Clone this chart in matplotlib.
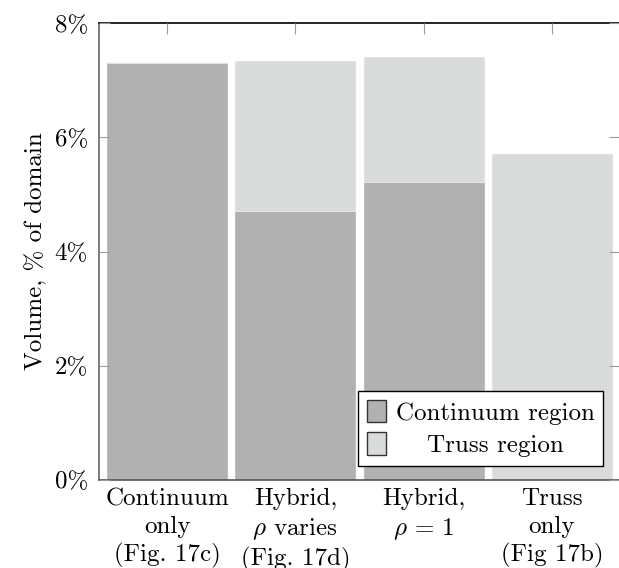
import numpy as np
import matplotlib
matplotlib.use("Agg")
import matplotlib.pyplot as plt
from matplotlib.ticker import FuncFormatter

plt.rcParams["font.family"] = ["cmr10", "DejaVu Serif"]
plt.rcParams["mathtext.fontset"] = "cm"
plt.rcParams["axes.formatter.use_mathtext"] = True

# volume fractions in % of the design domain
cases = ["Continuum\nonly\n(Fig. 17c)",
         "Hybrid,\n$\\rho$ varies\n(Fig. 17d)",
         "Hybrid,\n$\\rho$ = 1",
         "Truss\nonly\n(Fig 17b)"]
continuum_vol = [7.31, 4.72, 5.22, 0.0]
truss_vol = [0.0, 2.62, 2.19, 5.71]
yticks = [0, 2, 4, 6, 8]

c_cont = "#b0b1b0"
c_truss = "#d9dada"

fig = plt.figure(figsize=(6.19, 5.68), dpi=100)
ax = fig.add_axes([0.16, 0.155, 0.8416, 0.804])

x = np.arange(len(cases))
w = 0.935
ax.bar(x, continuum_vol, w, color=c_cont, edgecolor="#bdbebd", linewidth=0.8,
       label="Continuum region")
ax.bar(x, truss_vol, w, bottom=continuum_vol, color=c_truss, edgecolor="#e2e3e3",
       linewidth=0.8, label="Truss region")

ax.set_xlim(-0.53, 3.53)
ax.set_ylim(0, 8)
ax.set_xticks(x)
ax.set_xticklabels(cases, fontsize=18, linespacing=1.3)
ax.set_yticks(yticks)
ax.yaxis.set_major_formatter(FuncFormatter(lambda v, p: f"{v:.0f}%"))
ax.tick_params(axis="y", labelsize=18, direction="in", length=8, color="#999999",
               left=True, right=True, pad=8)
ax.tick_params(axis="x", direction="in", length=8, color="#999999",
               bottom=False, top=True, pad=6)
ax.set_ylabel("Volume, % of domain", fontsize=18, labelpad=5)

ax.spines["top"].set_color("black")
ax.spines["left"].set_color("#666666")
ax.spines["bottom"].set_color("#555555")
ax.spines["right"].set_visible(False)
for s in ax.spines.values():
    s.set_linewidth(1.2)
ax.set_axisbelow(False)

leg = ax.legend(loc="lower right", bbox_to_anchor=(0.968, 0.031), fontsize=18,
                fancybox=False, framealpha=1, edgecolor="black",
                handlelength=0.75, handleheight=1.0, handletextpad=0.4,
                labelspacing=0.3, borderpad=0.35, borderaxespad=0)
leg.get_frame().set_linewidth(1.0)
for h in leg.legend_handles:
    h.set_edgecolor("#333333")
    h.set_linewidth(1.0)

# center the shorter label under the longer one
fig.canvas.draw()
r = fig.canvas.get_renderer()
t0, t1 = leg.get_texts()
dx = (t0.get_window_extent(r).width - t1.get_window_extent(r).width) / 2
t1.set_position((dx, 0))

fig.savefig("out.png", dpi=100)
